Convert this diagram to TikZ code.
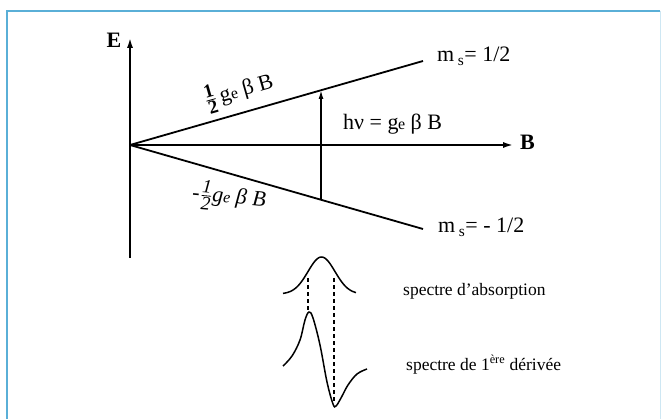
\documentclass[tikz,border=0pt]{standalone}
\usepackage{amsmath}
\usepackage{fontspec}
\setmainfont{Liberation Serif}
\usetikzlibrary{arrows.meta}
\definecolor{frameblue}{RGB}{90,175,215}
\newcommand{\fdig}[1]{\text{\fontsize{19}{19}\selectfont #1}}
\begin{document}
\begin{tikzpicture}[x=1pt,y=-1pt,
  axis/.style={line width=2.4pt,-{Latex[length=11pt,width=6pt]}},
  level/.style={line width=1.8pt},
  trans/.style={line width=1.5pt,-{Latex[length=9pt,width=5pt]}},
  lbl/.style={font=\fontsize{22}{26}\selectfont, inner sep=0pt},
  axlbl/.style={font=\bfseries\fontsize{22}{26}\selectfont, inner sep=0pt},
  small/.style={font=\fontsize{17.5}{20}\selectfont, inner sep=0pt},
  curve/.style={line width=1.5pt},
  guide/.style={line width=1.2pt, dash pattern=on 4pt off 3pt}]
\useasboundingbox (0,0) rectangle (663,419);
\fill[white] (0,0) rectangle (663,419);
\draw[frameblue, line width=1.5pt] (7,419) -- (7,11) -- (660,11);
\draw[frameblue!30, line width=1pt] (660,11) -- (660,419);

\coordinate (O) at (130,145);
\coordinate (Ebot) at (130,258);
\coordinate (Etop) at (130,37);
\coordinate (Bend) at (514,145);
\coordinate (up) at (423,61);
\coordinate (lo) at (423,229);
\coordinate (t1) at (321,200);
\coordinate (t2) at (321,90);

\draw[axis] (Ebot) -- (Etop);
\draw[axis] (O) -- (Bend);
\draw[level] (O) -- (up);
\draw[level] (O) -- (lo);
\draw[trans] (t1) -- (t2);

\node[axlbl] (E) at (114,40) {E};
\node[axlbl, anchor=west] (Bl) at (520,142) {B};
\node[lbl, anchor=base west] (m1) at (437,62) {m\,\textsubscript{s}= 1/2};
\node[lbl, anchor=base west] (m2) at (438,233) {m\,\textsubscript{s}= - 1/2};
\node[lbl, anchor=base west] (hv) at (343,130) {hν = g\kern-0.5pt{\fontsize{16}{16}\selectfont e} β B};
\node[lbl, rotate=16] (ul) at (239,91) {$\frac{\fdig{\bfseries 1}}{\fdig{\bfseries 2}}$\,g{\fontsize{16}{16}\selectfont e}\ β B};
\node[lbl, rotate=-5, font=\itshape\fontsize{22}{26}\selectfont] (ll) at (229,197) {-\kern1pt$\frac{\fdig{\itshape 1}}{\fdig{\itshape 2}}$g{\fontsize{16}{16}\selectfont e} β B};

% absorption curve
\draw[curve] plot[domain=283:356, samples=60, smooth] (\x, {294-37*exp(-((\x-321.5)^2)/(364.5))});
% derivative curve
\draw[curve] plot[smooth, tension=0.6] coordinates {(283,366) (292,356) (300,340) (305,320) (309,312) (313,318) (320,345) (327,382) (333,404) (336,406) (341,398) (348,385) (357,374) (367,369)};

\coordinate (g1) at (308,278);
\coordinate (d1) at (308,311);
\coordinate (g2) at (334,278);
\coordinate (d2) at (334,403);
\draw[guide] (g1) -- (d1);
\draw[guide] (g2) -- (d2);

\node[small, anchor=base west] (sa) at (403,295) {spectre d'absorption};
\node[small, anchor=base west] (sd) at (406,370) {spectre de 1\textsuperscript{ère} dérivée};
\end{tikzpicture}
\end{document}
